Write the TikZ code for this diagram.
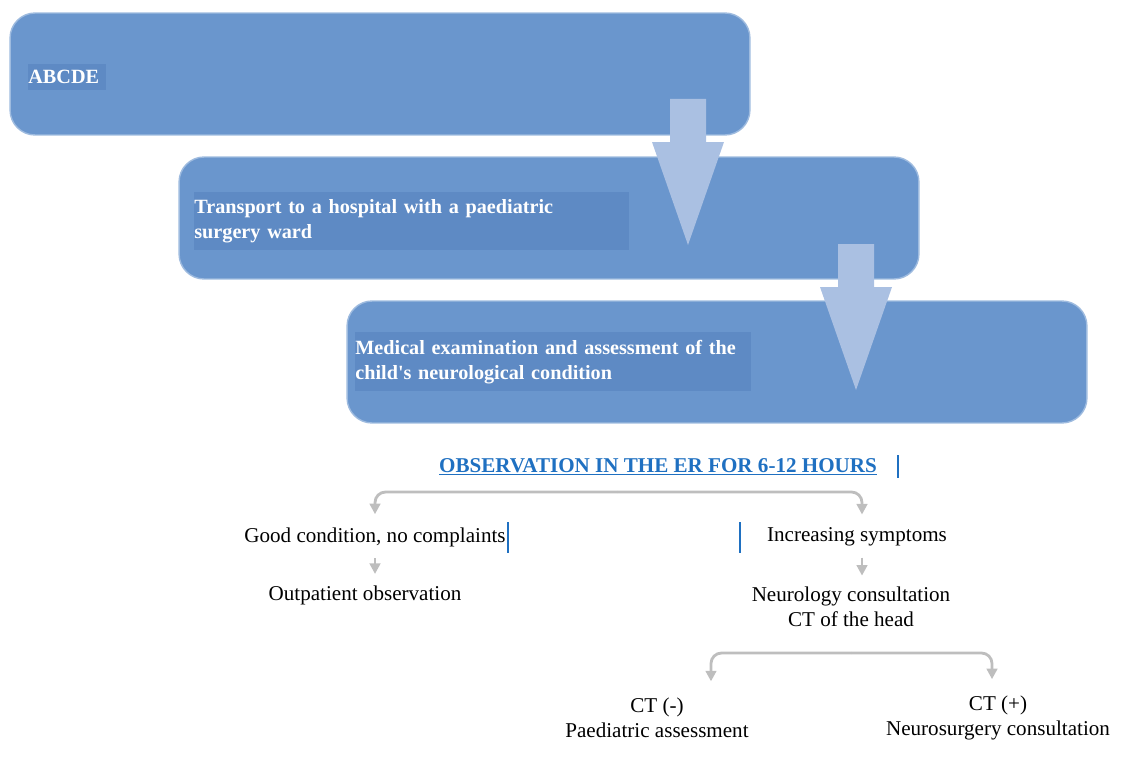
\documentclass[tikz,border=0pt]{standalone}
\usepackage{fontspec}
\setmainfont{Liberation Serif}
\usetikzlibrary{positioning,arrows.meta}
\definecolor{boxblue}{RGB}{106,150,205}
\definecolor{labelblue}{RGB}{94,138,196}
\definecolor{arrowblue}{RGB}{170,192,226}
\definecolor{linegray}{RGB}{190,190,190}
\definecolor{titleblue}{RGB}{31,112,193}
\begin{document}
\begin{tikzpicture}[x=0.02cm,y=-0.02cm,font=\fontsize{12}{14.2}\selectfont]
    \tikzstyle{stage}=[rounded corners=0.5cm,fill=boxblue,draw=boxblue!65,line width=0.8pt,minimum width=14.8cm,minimum height=2.44cm]
    \tikzstyle{stagelabel}=[fill=labelblue,text=white,font=\bfseries\fontsize{11.5}{14.2}\selectfont,anchor=north west,align=left,inner xsep=0pt,inner ysep=2pt]
    \tikzstyle{block}=[fill=arrowblue]
    \tikzstyle{flow}=[draw=linegray,line width=1.6pt,rounded corners=6pt,-{Triangle[width=6pt,length=6pt]}]
    \tikzstyle{cursor}=[draw=titleblue,line width=0.6pt]

    \useasboundingbox (0,0) rectangle (1135,757);

    % the three stages
    \node[stage] (abcde) at (380,74) {};
    \node[stage] (transport) at (549,218) {};
    \node[stage] (exam) at (717,362) {};

    \foreach \cx/\top in {688/99,856/244}
    \fill[block] (\cx-18,\top) -- (\cx+18,\top) -- (\cx+18,\top+43) -- (\cx+36,\top+43)
      -- (\cx,\top+146) -- (\cx-36,\top+43) -- (\cx-18,\top+43) -- cycle;

    \node[stagelabel,text width=1.56cm,minimum height=0.52cm] (abcde-t) at (28,64) {ABCDE};
    \node[stagelabel,text width=8.7cm,minimum height=1.16cm] (transport-t) at (194,192)
      {Transport to a hospital with a paediatric\\surgery ward};
    \node[stagelabel,text width=7.92cm,minimum height=1.18cm] (exam-t) at (355,332)
      {Medical examination and assessment of the\\child\textquotesingle s neurological condition};

    % observation and outcomes
    \node[text=titleblue,font=\bfseries\fontsize{12}{14.2}\selectfont] (obs) at (658,467)
      {\underline{OBSERVATION IN THE ER FOR 6-12 HOURS}};
    \draw[cursor] (898,455) -- (898,478);

    \node (good) at (375,537) {Good condition, no complaints};
    \node (incr) at (857,537) {Increasing symptoms};
    \draw[cursor] (508,522) -- (508,553);
    \draw[cursor] (740,522) -- (740,553);

    \node (outpat) at (365,595) {Outpatient observation};
    \node[align=center] (neuro) at (851,607) {Neurology consultation\\CT of the head};
    \node[align=center] (ctneg) at (657,718) {CT (-)\\Paediatric assessment};
    \node[align=center] (ctpos) at (998,718) {CT (+)\\Neurosurgery consultation};

    \coordinate (split) at (617,492);
    \coordinate (fork) at (851,653);
    \draw[flow,shorten >=4pt] (split) -| (good);
    \draw[flow,shorten >=4pt] (split) -| ([xshift=0.1cm]incr.north);
    \draw[flow,shorten <=3pt,shorten >=3pt] (good.south) -- (good.south |- outpat.north);
    \draw[flow,shorten <=3pt,shorten >=3pt] ([xshift=0.1cm]incr.south) -- ([xshift=0.1cm]incr.south |- neuro.north);
    \draw[flow,shorten >=6pt] (fork) -| ([xshift=1.08cm]ctneg.north);
    \draw[flow,shorten >=6pt] (fork) -| ([xshift=-0.12cm]ctpos.north);
\end{tikzpicture}
\end{document}
